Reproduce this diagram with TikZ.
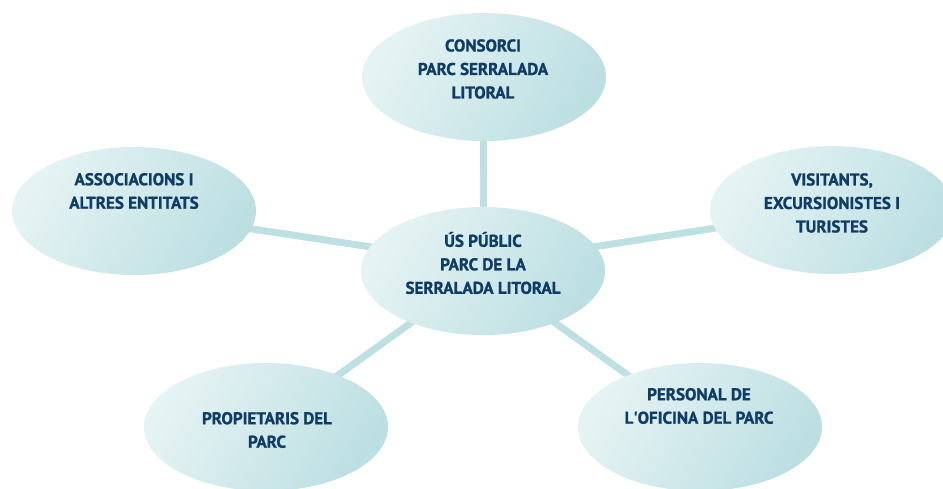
\documentclass[tikz,border=0pt]{standalone}
\usepackage{fontspec}
\setmainfont{PT Sans}[BoldFeatures={FakeBold=1.2}]
\usetikzlibrary{shapes.geometric}
\definecolor{txtblue}{HTML}{0F3B67}
\definecolor{ellLight}{HTML}{E6F3F4}
\definecolor{ellDark}{HTML}{BCDFE2}
\definecolor{linkcol}{HTML}{BDE0E3}
\begin{document}
\begin{tikzpicture}[x=1pt,y=-1pt,
  bubble/.style={ellipse, minimum width=244pt, minimum height=128pt, inner sep=0pt,
    top color=ellLight, bottom color=ellDark, shading angle=60},
  lbl/.style={align=center, text=txtblue, font=\fontsize{17}{23.5}\selectfont\bfseries},
  link/.style={draw=linkcol, line width=7pt}]
\useasboundingbox (0,0) rectangle (943,488);
\clip (0,0) rectangle (943,488);
% ellipse centres
\coordinate (pTop) at (484,77);
\coordinate (pMid) at (483,271);
\coordinate (pLeft) at (134,211);
\coordinate (pRight) at (832,210);
\coordinate (pBL) at (266,427);
\coordinate (pBR) at (700,427);
% connectors behind
\coordinate (hub) at (483,264);
\draw[link] (pTop) -- (pMid);
\draw[link] (pLeft) -- (hub);
\draw[link] (pRight) -- (hub);
\draw[link] (pBL) -- (pMid);
\draw[link] (pBR) -- (pMid);
% bubbles
\node[bubble] (top) at (pTop) {};
\node[bubble] (mid) at (pMid) {};
\node[bubble] (left) at (pLeft) {};
\node[bubble] (right) at (pRight) {};
\node[bubble] (bl) at (pBL) {};
\node[bubble] (br) at (pBR) {};
% texts
\node[lbl] (topt) at (483,69) {CONSORCI\\PARC SERRALADA\\LITORAL};
\node[lbl] (midt) at (483,263) {ÚS PÚBLIC\\PARC DE LA\\SERRALADA LITORAL};
\node[lbl] (leftt) at (134,191) {ASSOCIACIONS I\\ALTRES ENTITATS};
\node[lbl] (rightt) at (832,203) {VISITANTS,\\EXCURSIONISTES I\\TURISTES};
\node[lbl] (blt) at (267,430) {PROPIETARIS DEL\\PARC};
\node[lbl] (brt) at (699,406) {PERSONAL DE\\L\textquotesingle OFICINA DEL PARC};
\end{tikzpicture}
\end{document}
